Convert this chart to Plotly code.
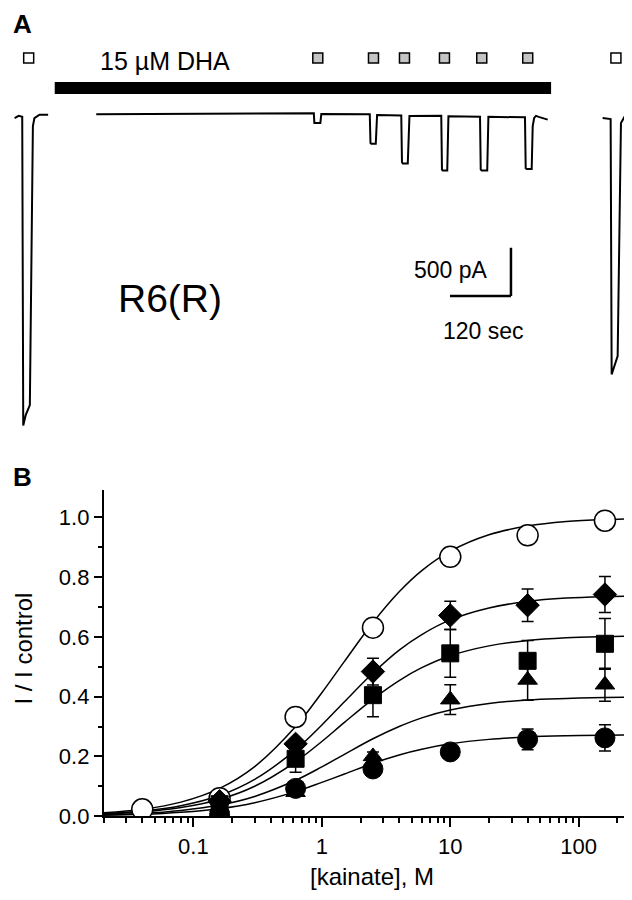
import plotly.graph_objects as go

# ---------------- Panel B data ----------------
conc_ctrl = [0.04, 0.16, 0.625, 2.5, 10, 40, 160]
ctrl = [0.023, 0.060, 0.332, 0.631, 0.868, 0.940, 0.989]          # open circles

conc = [0.16, 0.625, 2.5, 10, 40, 160]
diam = [0.050, 0.242, 0.484, 0.672, 0.706, 0.742]
diam_err = [0.0, 0.0, 0.045, 0.047, 0.054, 0.060]
sq = [0.040, 0.192, 0.405, 0.545, 0.520, 0.577]
sq_err = [0.0, 0.045, 0.072, 0.080, 0.068, 0.085]
tri = [0.030, 0.080, 0.200, 0.390, 0.456, 0.440]
tri_err = [0.0, 0.0, 0.015, 0.050, 0.068, 0.055]
circ = [0.005, 0.093, 0.158, 0.215, 0.257, 0.262]
circ_err = [0.0, 0.0, 0.0, 0.0, 0.035, 0.044]

# fitted curves
fit_x = [0.02, 0.04, 0.08, 0.16, 0.3, 0.625, 1, 1.5, 2.5, 4, 6, 10, 20, 40, 80, 160, 300]
fit_ctrl = [0.011, 0.023, 0.047, 0.093, 0.166, 0.300, 0.413, 0.518, 0.648, 0.751, 0.822, 0.887, 0.942, 0.971, 0.986, 0.993, 0.996]
fit_diam = [0.008, 0.017, 0.035, 0.069, 0.123, 0.222, 0.305, 0.383, 0.479, 0.556, 0.608, 0.657, 0.697, 0.719, 0.730, 0.735, 0.737]
fit_sq = [0.007, 0.014, 0.029, 0.056, 0.100, 0.182, 0.250, 0.314, 0.392, 0.454, 0.497, 0.537, 0.570, 0.588, 0.597, 0.601, 0.603]
fit_tri = [0.005, 0.009, 0.019, 0.037, 0.066, 0.120, 0.165, 0.207, 0.259, 0.300, 0.329, 0.355, 0.377, 0.389, 0.394, 0.397, 0.399]
fit_circ = [0.003, 0.006, 0.013, 0.025, 0.045, 0.082, 0.113, 0.141, 0.177, 0.205, 0.224, 0.242, 0.257, 0.265, 0.269, 0.271, 0.272]

x_tickvals = [0.1, 1, 10, 100]
x_ticktext = ["0.1", "1", "10", "100"]
y_tickvals = [0.0, 0.2, 0.4, 0.6, 0.8, 1.0]
y_ticktext = ["0.0", "0.2", "0.4", "0.6", "0.8", "1.0"]

# ---------------- Panel A data (time s, current pA) ----------------
ctrl1_t = [13, 21, 28, 30, 35, 43, 49, 52, 62, 79]
ctrl1_i = [-28, -5, -15, -3210, -3100, -3000, -110, -28, 7, 7]

dha_t = [173.7, 393.4, 602.0, 603.0, 614.8, 616.7, 712.1, 713.5, 715.1, 723.9, 726.5,
         774.1, 775.5, 777.0, 786.9, 790.2, 852.8, 854.2, 855.7, 864.6, 866.9,
         929.1, 930.5, 932.5, 943.3, 945.6, 1017.6, 1019.0, 1021.0, 1030.8, 1032.8,
         1035.7, 1039.3, 1044.6, 1062.3]
dha_i = [13, 20, 22, -79, -79, 15, 12, -286, -293, -293, 5,
         0, -485, -497, -497, -5, -3, -561, -571, -571, -10,
         -13, -561, -571, -571, -15, -20, -546, -554, -554, -112,
         -26, -5, -15, -44]

ctrl2_t = [1170.5, 1186.2, 1188.2, 1200.0, 1206.5, 1213.2, 1219.7, 1242.7]
ctrl2_i = [-28, -38, -2681, -2493, -79, -17, -17, -28]

ctrl_app = [40.7, 1196.6]
ka_app = [609.8, 719.4, 780.4, 859.1, 932.5, 1023.0]
dha_on, dha_off = 92, 1069
scale_t, scale_i = 120, 500

FONT = "Arial, Liberation Sans, sans-serif"
W, H = 632, 900

fig = go.Figure()

# ---- Panel A ----
for t, i in [(ctrl1_t, ctrl1_i), (dha_t, dha_i), (ctrl2_t, ctrl2_i)]:
    fig.add_trace(go.Scatter(x=t, y=i, mode="lines", line=dict(color="black", width=2),
                             xaxis="x2", yaxis="y2", showlegend=False, hoverinfo="skip"))

row_i = 595
fig.add_trace(go.Scatter(x=ctrl_app, y=[row_i] * len(ctrl_app), mode="markers",
                         marker=dict(symbol="square", size=10, color="white",
                                     line=dict(color="black", width=1.5)),
                         xaxis="x2", yaxis="y2", showlegend=False, hoverinfo="skip"))
fig.add_trace(go.Scatter(x=ka_app, y=[row_i] * len(ka_app), mode="markers",
                         marker=dict(symbol="square", size=10, color="#c4c4c4",
                                     line=dict(color="black", width=1.5)),
                         xaxis="x2", yaxis="y2", showlegend=False, hoverinfo="skip"))

fig.add_shape(type="rect", xref="x2", yref="y2", x0=dha_on, x1=dha_off, y0=221, y1=347,
              fillcolor="black", line=dict(width=0))
sb_t, sb_i = 990, -1370
fig.add_shape(type="line", xref="x2", yref="y2", x0=sb_t, x1=sb_t, y0=sb_i, y1=sb_i - scale_i,
              line=dict(color="black", width=2.5))
fig.add_shape(type="line", xref="x2", yref="y2", x0=sb_t - scale_t, x1=sb_t, y0=sb_i - scale_i,
              y1=sb_i - scale_i, line=dict(color="black", width=2.5))

# ---- Panel B ----
curves = [fit_ctrl, fit_diam, fit_sq, fit_tri, fit_circ]
for c in curves:
    fig.add_trace(go.Scatter(x=fit_x, y=c, mode="lines", line=dict(color="black", width=1.5, shape="spline"),
                             showlegend=False, hoverinfo="skip"))

fig.add_trace(go.Scatter(x=conc_ctrl, y=ctrl, mode="markers",
                         marker=dict(symbol="circle", size=21, color="white", line=dict(color="black", width=1.5)),
                         showlegend=False))

series = [(diam, diam_err, "diamond", 18), (sq, sq_err, "square", 17),
          (tri, tri_err, "triangle-up", 17), (circ, circ_err, "circle", 20)]
for ys, es, sym, sz in series:
    fig.add_trace(go.Scatter(x=conc, y=ys, mode="markers",
                             error_y=dict(type="data", array=es, visible=True, color="black",
                                          thickness=1.5, width=6),
                             marker=dict(symbol=sym, size=sz, color="black", line=dict(color="black", width=1)),
                             showlegend=False))

y_top_px, y_bot_px = 489, 820
x_left_px = 95.6

fig.update_layout(
    width=W, height=H, margin=dict(l=0, r=0, t=0, b=0),
    paper_bgcolor="white", plot_bgcolor="white",
    font=dict(family=FONT, color="black", size=22),
    xaxis=dict(type="log", domain=[x_left_px / W, 1.0], range=[-1.699, 2.477],
               tickvals=x_tickvals, ticktext=x_ticktext, ticks="outside", ticklen=9, tickwidth=1.5,
               tickcolor="black", showline=True, linecolor="black", linewidth=1.5, showgrid=False,
               zeroline=False, tickfont=dict(size=22), ticklabelstandoff=1,
               minor=dict(tickvals=[0.02, 0.03, 0.04, 0.05, 0.06, 0.07, 0.08, 0.09,
                                    0.2, 0.3, 0.4, 0.5, 0.6, 0.7, 0.8, 0.9,
                                    2, 3, 4, 5, 6, 7, 8, 9, 20, 30, 40, 50, 60, 70, 80, 90, 200, 300],
                          ticks="outside", ticklen=5, tickwidth=1.5, tickcolor="black", showgrid=False),
               anchor="y"),
    yaxis=dict(domain=[1 - y_bot_px / H, 1 - y_top_px / H], range=[0, 1.092],
               tickvals=y_tickvals, ticktext=y_ticktext, ticks="outside", ticklen=8, tickwidth=1.5,
               tickcolor="black", showline=True, linecolor="black", linewidth=1.5, showgrid=False,
               zeroline=False, tickfont=dict(size=22),
               minor=dict(tickvals=[0.1, 0.3, 0.5, 0.7, 0.9], ticks="outside", ticklen=4, tickwidth=1.5,
                          tickcolor="black", showgrid=False),
               anchor="x"),
    xaxis2=dict(domain=[0, 1], range=[0, 1244], visible=False, anchor="y2"),
    yaxis2=dict(domain=[0.5, 1.0], range=[-3480, 1112], visible=False, anchor="x2"),
)

def ann(text, xpx, ypx, size, bold=False, angle=0):
    fig.add_annotation(text=("<b>%s</b>" % text) if bold else text, x=xpx / W, y=1 - ypx / H,
                       xref="paper", yref="paper", showarrow=False, xanchor="center", yanchor="middle",
                       textangle=angle, font=dict(family=FONT, size=size, color="black"))

ann("A", 14, 16, 26, bold=True)
ann("B", 14, 476, 26, bold=True)
ann("15 µM DHA", 157, 54, 25)
ann("R6(R)", 162, 295, 39)
ann("500 pA", 443, 266, 23)
ann("120 sec", 475, 328, 23)
ann("I / I control", 16, 650, 24, angle=-90)
ann("[kainate], M", 364, 881, 24)

fig.write_html("out.html")
